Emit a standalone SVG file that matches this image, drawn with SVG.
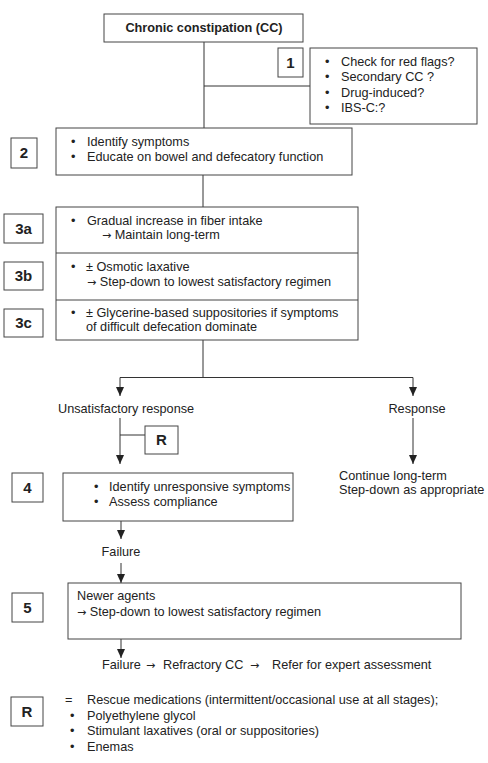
<svg xmlns="http://www.w3.org/2000/svg" width="488" height="763" viewBox="0 0 488 763">
<defs>
<marker id="ah" markerWidth="9" markerHeight="8" refX="9" refY="4" orient="auto" markerUnits="userSpaceOnUse" viewBox="0 0 9 8">
<path d="M0,0 L9,4 L0,8 Z" fill="#222"/>
</marker>
<style>
text{font-family:"Liberation Sans",Arial,sans-serif;font-size:12.7px;fill:#222}
.b{font-weight:bold}
.ar{font-family:"DejaVu Sans",sans-serif;font-size:11px}
.lbl{font-weight:bold;font-size:15px;text-anchor:middle}
rect{fill:#fff;stroke:#444;stroke-width:1}
.c line,.c path{stroke:#333;stroke-width:1;fill:none}
</style>
</defs>
<rect width="488" height="763" style="fill:#fff;stroke:none"/>
<g class="c" id="connectors">
<line x1="204" y1="42" x2="204" y2="128"/>
<line x1="204" y1="86" x2="310" y2="86"/>
<line x1="203" y1="175" x2="203" y2="207"/>
<line x1="203" y1="340" x2="203" y2="377.5"/>
<line x1="120" y1="377.5" x2="413" y2="377.5"/>
<line x1="120" y1="377.5" x2="120" y2="396" marker-end="url(#ah)"/>
<line x1="413" y1="377.5" x2="413" y2="396" marker-end="url(#ah)"/>
<line x1="120" y1="418" x2="120" y2="464" marker-end="url(#ah)"/>
<line x1="120" y1="435" x2="145" y2="435"/>
<line x1="413" y1="418" x2="413" y2="464" marker-end="url(#ah)"/>
<line x1="121" y1="521" x2="121" y2="539" marker-end="url(#ah)"/>
<line x1="121" y1="563" x2="121" y2="583" marker-end="url(#ah)"/>
<line x1="121" y1="639" x2="121" y2="658" marker-end="url(#ah)"/>
</g>
<g id="n-top">
<rect x="104" y="14" width="199" height="28"/>
<text x="204" y="32" class="b" text-anchor="middle">Chronic constipation (CC)</text>
</g>
<g id="l-1">
<rect x="278" y="48" width="25" height="29"/>
<text x="290.5" y="68" class="lbl">1</text>
</g>
<g id="n-1">
<rect x="310" y="48" width="167" height="76"/>
<text x="325" y="66">•</text><text x="341" y="66">Check for red flags?</text>
<text x="325" y="81">•</text><text x="341" y="81">Secondary CC ?</text>
<text x="325" y="97">•</text><text x="341" y="97">Drug-induced?</text>
<text x="325" y="112">•</text><text x="341" y="112">IBS-C:?</text>
</g>
<g id="l-2">
<rect x="11" y="138" width="26" height="30"/>
<text x="24" y="158" class="lbl">2</text>
</g>
<g id="n-2">
<rect x="56" y="128" width="296" height="47"/>
<text x="71" y="146">•</text><text x="87" y="146">Identify symptoms</text>
<text x="71" y="161">•</text><text x="87" y="161">Educate on bowel and defecatory function</text>
</g>
<g id="l-3a">
<rect x="4" y="214" width="39" height="29"/>
<text x="23.5" y="234" class="lbl">3a</text>
</g>
<g id="l-3b">
<rect x="4" y="262" width="39" height="28"/>
<text x="23.5" y="281" class="lbl">3b</text>
</g>
<g id="l-3c">
<rect x="4" y="309" width="39" height="28"/>
<text x="23.5" y="328" class="lbl">3c</text>
</g>
<g id="n-3">
<rect x="56" y="207" width="302" height="133"/>
<line x1="56" y1="253" x2="358" y2="253" stroke="#444"/>
<line x1="56" y1="300" x2="358" y2="300" stroke="#444"/>
<text x="71" y="225">•</text><text x="87" y="225">Gradual increase in fiber intake</text>
<text x="102" y="239"><tspan class="ar">→</tspan> Maintain long-term</text>
<text x="71" y="271">•</text><text x="86" y="271">± Osmotic laxative</text>
<text x="87" y="286"><tspan class="ar">→</tspan> Step-down to lowest satisfactory regimen</text>
<text x="71" y="317">•</text><text x="86" y="317">± Glycerine-based suppositories if symptoms</text>
<text x="86" y="331">of difficult defecation dominate</text>
</g>
<g id="n-unsat">
<text x="58" y="413">Unsatisfactory response</text>
</g>
<g id="n-resp">
<text x="417" y="413" text-anchor="middle">Response</text>
</g>
<g id="l-R1">
<rect x="145" y="426" width="33" height="28"/>
<text x="161.5" y="445" class="lbl">R</text>
</g>
<g id="n-cont">
<text x="339" y="480">Continue long-term</text>
<text x="339" y="494">Step-down as appropriate</text>
</g>
<g id="l-4">
<rect x="12" y="473" width="31" height="29"/>
<text x="27.5" y="493" class="lbl">4</text>
</g>
<g id="n-4">
<rect x="63" y="473" width="230" height="48"/>
<text x="94" y="491">•</text><text x="109" y="491">Identify unresponsive symptoms</text>
<text x="94" y="506">•</text><text x="109" y="506">Assess compliance</text>
</g>
<g id="n-fail">
<text x="121" y="556" text-anchor="middle">Failure</text>
</g>
<g id="l-5">
<rect x="12" y="593" width="31" height="29"/>
<text x="27.5" y="613" class="lbl">5</text>
</g>
<g id="n-5">
<rect x="68" y="583" width="393" height="56"/>
<text x="77" y="600">Newer agents</text>
<text x="77" y="616"><tspan class="ar">→</tspan> Step-down to lowest satisfactory regimen</text>
</g>
<g id="n-refr">
<text y="669"><tspan x="102">Failure</tspan><tspan x="146" class="ar">→</tspan><tspan x="163">Refractory CC</tspan><tspan x="250" class="ar">→</tspan><tspan x="272">Refer for expert assessment</tspan></text>
</g>
<g id="l-R2">
<rect x="11" y="697" width="32" height="29"/>
<text x="27" y="717" class="lbl">R</text>
</g>
<g id="n-legend">
<text x="65" y="704">=</text><text x="87" y="704">Rescue medications (intermittent/occasional use at all stages);</text>
<text x="70" y="720">•</text><text x="87" y="720">Polyethylene glycol</text>
<text x="70" y="735">•</text><text x="87" y="735">Stimulant laxatives (oral or suppositories)</text>
<text x="70" y="751">•</text><text x="87" y="751">Enemas</text>
</g>
</svg>
